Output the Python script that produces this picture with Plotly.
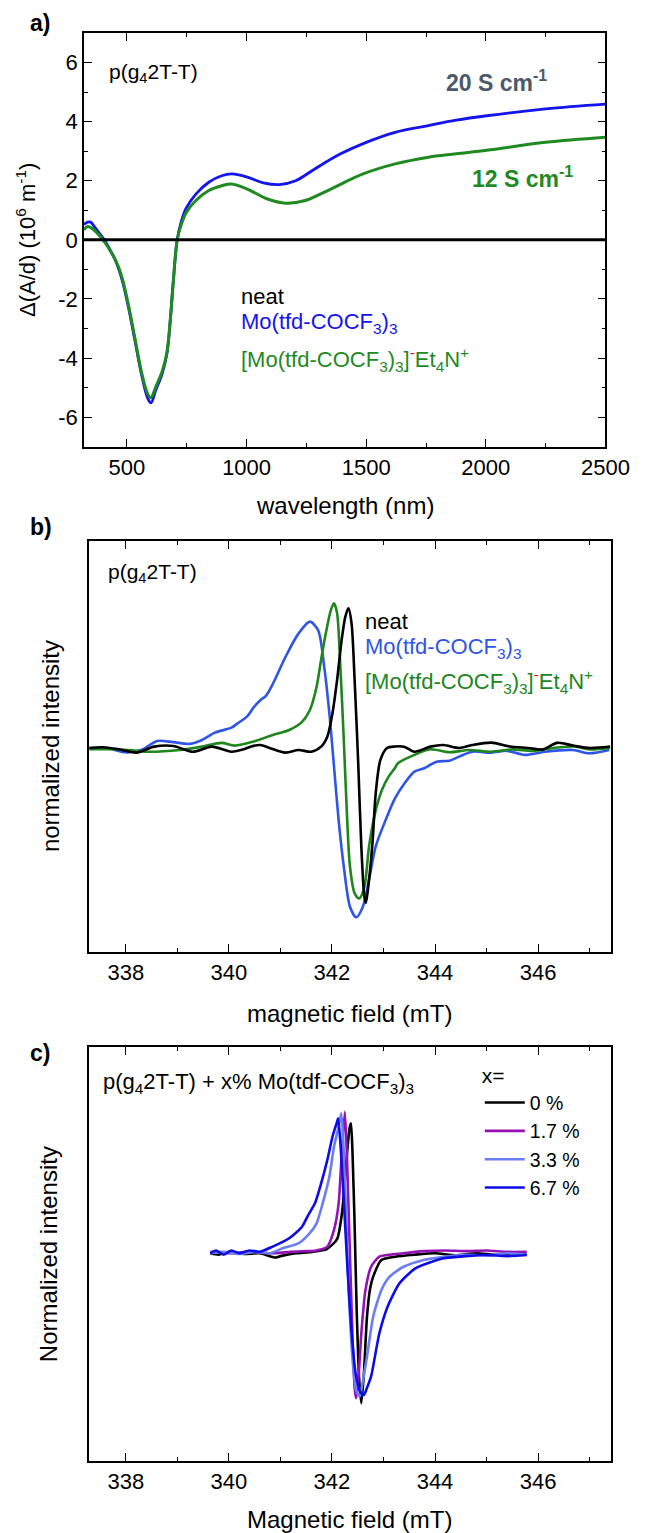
import plotly.graph_objects as go

# ---------------- data ----------------
# (a) differential absorption spectra, 10^6 m^-1
wl_blue = [320, 335, 348, 365, 385, 405, 430, 452, 480, 506, 533, 560, 587, 600, 620, 647, 667,
           681, 694, 710, 728, 748, 788, 842, 896, 940, 1003, 1070, 1137, 1205, 1285, 1393, 1500,
           1621, 1755, 1876, 2004, 2250, 2500]
dad_blue = [0.52, 0.60, 0.60, 0.43, 0.22, 0.0, -0.35, -0.70, -1.37, -2.28, -3.40, -4.53, -5.37,
            -5.52, -5.09, -4.53, -3.85, -2.73, -1.37, 0.0, 0.65, 1.08, 1.55, 1.95, 2.17, 2.23, 2.12,
            1.93, 1.87, 2.00, 2.40, 2.91, 3.30, 3.64, 3.86, 4.05, 4.20, 4.43, 4.59]

wl_green = [320, 335, 348, 372, 412, 459, 480, 506, 533, 560, 587, 600, 620, 647, 667, 681, 694,
            710, 728, 748, 788, 842, 896, 936, 1003, 1084, 1164, 1245, 1352, 1487, 1621, 1755,
            1876, 2004, 2250, 2500]
dad_green = [0.34, 0.45, 0.42, 0.26, -0.14, -0.81, -1.30, -2.20, -3.32, -4.45, -5.22, -5.34,
             -4.98, -4.45, -3.80, -2.70, -1.37, 0.0, 0.54, 0.93, 1.33, 1.67, 1.83, 1.89, 1.72,
             1.39, 1.24, 1.33, 1.72, 2.23, 2.57, 2.79, 2.91, 3.03, 3.30, 3.47]

wl_neat = [320, 2500]
dad_neat = [0.0, 0.0]

# (b) EPR spectra, normalized intensity
b_field_neat = [337.29, 337.55, 337.86, 338.21, 338.55, 338.92, 339.30, 339.67, 340.05, 340.29,
                340.42, 340.61, 340.79, 341.10, 341.35, 341.60, 341.79, 341.91, 342.01, 342.10,
                342.19, 342.26, 342.32, 342.38, 342.44, 342.51, 342.57, 342.63, 342.66, 342.72,
                342.79, 342.85, 342.94, 343.07, 343.22, 343.40, 343.60, 343.91, 344.16, 344.47,
                344.72, 345.09, 345.45, 345.80, 346.10, 346.37, 346.70, 347.00, 347.40]
b_int_neat = [0.0, 0.005, -0.009, -0.032, 0.009, 0.014, -0.026, 0.009, -0.026, -0.009, 0.009,
              0.02, 0.0, -0.032, -0.014, -0.026, 0.009, 0.078, 0.24, 0.47, 0.75, 0.907, 0.965,
              0.862, 0.47, -0.106, -0.68, -1.03, -1.07, -0.91, -0.64, -0.31, -0.083, 0.0, 0.01,
              0.009, -0.026, 0.009, 0.02, 0.0, 0.02, 0.037, 0.01, 0.0, -0.01, 0.035, 0.015, 0.0,
              0.01]

b_field_mo = [337.29, 337.62, 337.99, 338.30, 338.61, 338.92, 339.24, 339.48, 339.73, 340.05,
              340.17, 340.36, 340.48, 340.61, 340.72, 340.85, 341.10, 341.35, 341.57, 341.73,
              341.85, 341.95, 342.04, 342.13, 342.23, 342.35, 342.47, 342.60, 342.72, 342.85,
              343.04, 343.22, 343.41, 343.60, 343.79, 344.03, 344.28, 344.47, 344.72, 345.09,
              345.40, 345.74, 346.13, 346.68, 346.99, 347.38]
b_int_mo = [0.0, 0.0, -0.03, -0.014, 0.048, 0.04, 0.028, 0.055, 0.106, 0.14, 0.17, 0.22, 0.28,
            0.33, 0.36, 0.44, 0.63, 0.79, 0.873, 0.815, 0.56, 0.24, -0.129, -0.50, -0.82, -1.097,
            -1.17, -1.097, -0.91, -0.68, -0.50, -0.35, -0.244, -0.164, -0.14, -0.095, -0.088,
            -0.06, -0.026, -0.032, -0.02, -0.048, -0.026, -0.014, -0.037, -0.014]

b_field_salt = [337.29, 337.86, 338.42, 339.05, 339.48, 339.86, 340.11, 340.48, 340.85, 341.17,
                341.42, 341.57, 341.70, 341.79, 341.88, 341.98, 342.04, 342.10, 342.16, 342.23,
                342.29, 342.35, 342.44, 342.53, 342.63, 342.72, 342.85, 342.97, 343.10, 343.22,
                343.28, 343.60, 343.91, 344.28, 344.66, 345.09, 345.50, 345.90, 346.30, 346.70,
                347.00, 347.40]
b_int_salt = [-0.009, -0.009, -0.026, -0.014, 0.009, 0.035, 0.016, 0.044, 0.09, 0.124, 0.18,
              0.26, 0.42, 0.61, 0.79, 0.954, 1.0, 0.93, 0.585, 0.055, -0.45, -0.82, -1.004,
              -1.04, -0.96, -0.68, -0.43, -0.29, -0.198, -0.14, -0.106, -0.048, -0.009, -0.03,
              -0.014, -0.026, -0.01, -0.02, 0.0, 0.01, -0.01, 0.0]

# (c) EPR spectra vs. dopant fraction
c_labels = ["0 %", "1.7 %", "3.3 %", "6.7 %"]
c_field_0 = [339.64, 339.80, 340.00, 340.30, 340.60, 340.90, 341.00, 341.30, 341.60, 341.90,
             342.10, 342.20, 342.28, 342.34, 342.37, 342.40, 342.44, 342.48, 342.53, 342.57,
             342.62, 342.68, 342.74, 342.80, 342.96, 343.23, 343.60, 344.00, 344.40, 344.80,
             345.20, 345.50, 345.78]
c_int_0 = [0.0, -0.01, 0.01, -0.005, 0.0, -0.03, -0.02, 0.0, 0.01, 0.03, 0.1, 0.3, 0.65, 0.88,
           0.918, 0.7, 0.2, -0.4, -0.9, -1.059, -0.85, -0.448, -0.25, -0.165, -0.047, -0.024,
           -0.01, 0.0, -0.015, 0.0, -0.01, 0.0, -0.01]

c_field_17 = [339.64, 340.00, 340.40, 340.80, 341.20, 341.50, 341.67, 341.91, 342.04, 342.13,
              342.19, 342.25, 342.29, 342.34, 342.40, 342.44, 342.47, 342.52, 342.57, 342.65,
              342.76, 342.92, 343.39, 343.80, 344.20, 344.60, 345.00, 345.40, 345.78]
c_int_17 = [0.01, 0.0, 0.01, 0.0, 0.01, 0.015, 0.018, 0.047, 0.165, 0.353, 0.706, 1.0, 0.7, 0.1,
            -0.6, -0.95, -1.024, -0.85, -0.565, -0.26, -0.095, -0.024, 0.0, 0.015, 0.02, 0.015,
            0.02, 0.01, 0.01]

c_field_33 = [339.64, 339.90, 340.20, 340.50, 340.80, 341.04, 341.35, 341.54, 341.70, 341.82,
              341.95, 342.04, 342.13, 342.18, 342.22, 342.27, 342.33, 342.40, 342.47, 342.54,
              342.60, 342.68, 342.80, 342.96, 343.12, 343.39, 343.78, 344.17, 344.60, 345.00,
              345.40, 345.78]
c_int_33 = [0.0, 0.01, -0.005, 0.01, 0.0, 0.035, 0.07, 0.13, 0.21, 0.353, 0.541, 0.753, 0.894,
            0.989, 0.8, 0.3, -0.3, -0.75, -0.97, -1.013, -0.9, -0.73, -0.448, -0.259, -0.165,
            -0.095, -0.047, -0.024, -0.01, -0.015, 0.0, -0.01]

c_field_67 = [339.64, 339.75, 339.90, 340.05, 340.20, 340.40, 340.60, 340.85, 341.17, 341.42,
              341.54, 341.67, 341.79, 341.91, 342.01, 342.10, 342.12, 342.16, 342.22, 342.30,
              342.38, 342.46, 342.55, 342.62, 342.68, 342.76, 342.92, 343.08, 343.31, 343.62,
              343.94, 344.17, 344.60, 344.96, 345.40, 345.78]
c_int_67 = [0.0, 0.02, -0.01, 0.02, 0.0, 0.02, 0.01, 0.047, 0.106, 0.188, 0.27, 0.353, 0.494,
            0.659, 0.823, 0.929, 0.953, 0.8, 0.45, -0.1, -0.55, -0.85, -0.98, -1.0, -0.95, -0.87,
            -0.565, -0.377, -0.212, -0.106, -0.059, -0.035, -0.02, -0.012, -0.02, -0.012]

# tick labels
a_xticks = [500, 1000, 1500, 2000, 2500]
a_yticks = [-6, -4, -2, 0, 2, 4, 6]
bc_xticks = [338, 340, 342, 344, 346]

# ---------------- styling ----------------
W, H = 657, 1533
FONT = "Liberation Sans"
BLUE_A, GREEN_A = "#1414ee", "#1f8a1f"
BLUE_B, GREEN_B = "#2f55e6", "#1d861d"
C_COLORS = ["#000000", "#9412b4", "#6a7df2", "#0c0ce6"]


def xp(px):
    return px / W


def yp(py):
    return 1 - py / H


fig = go.Figure()

# panel a
spl_a = dict(shape="spline", smoothing=1.0)
fig.add_trace(go.Scatter(x=wl_blue, y=dad_blue, mode="lines", xaxis="x", yaxis="y",
                         line=dict(color=BLUE_A, width=2.8, **spl_a), showlegend=False))
fig.add_trace(go.Scatter(x=wl_green, y=dad_green, mode="lines", xaxis="x", yaxis="y",
                         line=dict(color=GREEN_A, width=3, **spl_a), showlegend=False))
fig.add_trace(go.Scatter(x=wl_neat, y=dad_neat, mode="lines", xaxis="x", yaxis="y",
                         line=dict(color="black", width=3), showlegend=False))

# panel b
spl_b = dict(shape="spline", smoothing=0.8)
fig.add_trace(go.Scatter(x=b_field_mo, y=b_int_mo, mode="lines", xaxis="x2", yaxis="y2",
                         line=dict(color=BLUE_B, width=2.6, **spl_b), showlegend=False))
fig.add_trace(go.Scatter(x=b_field_salt, y=b_int_salt, mode="lines", xaxis="x2", yaxis="y2",
                         line=dict(color=GREEN_B, width=2.6, **spl_b), showlegend=False))
fig.add_trace(go.Scatter(x=b_field_neat, y=b_int_neat, mode="lines", xaxis="x2", yaxis="y2",
                         line=dict(color="black", width=2.6, **spl_b), showlegend=False))

# panel c
spl_c = dict(shape="spline", smoothing=0.6)
for xs, ys, name, col in zip([c_field_0, c_field_17, c_field_33, c_field_67],
                             [c_int_0, c_int_17, c_int_33, c_int_67], c_labels, C_COLORS):
    fig.add_trace(go.Scatter(x=xs, y=ys, mode="lines", xaxis="x3", yaxis="y3", name=name,
                             line=dict(color=col, width=2.6, **spl_c), showlegend=True))

tickfont = dict(family=FONT, size=22, color="black")
minor_style = dict(ticks="inside", ticklen=4, tickwidth=1.2, tickcolor="black")
axis_common = dict(showline=True, linecolor="black", linewidth=1.6, mirror="allticks",
                   ticks="inside", ticklen=8, tickwidth=1.4, tickcolor="black",
                   showgrid=False, zeroline=False, tickfont=tickfont)

fig.update_layout(
    width=W, height=H, margin=dict(l=0, r=0, t=0, b=0),
    paper_bgcolor="white", plot_bgcolor="white",
    font=dict(family=FONT, size=22, color="black"),
    xaxis=dict(domain=[xp(87.1), xp(628.4)], anchor="y", range=[320, 2500],
               tickvals=a_xticks, ticktext=[str(v) for v in a_xticks],
               minor=dict(dtick=250, tick0=0, **minor_style), **axis_common),
    yaxis=dict(domain=[yp(446.7), yp(33)], anchor="x", range=[-7, 7],
               tickvals=a_yticks, ticktext=[str(v) for v in a_yticks],
               minor=dict(dtick=1, tick0=0, **minor_style), **axis_common),
    xaxis2=dict(domain=[xp(92.6), xp(633.9)], anchor="y2", range=[337.29, 347.41],
                tickvals=bc_xticks, ticktext=[str(v) for v in bc_xticks],
                minor=dict(dtick=1, tick0=0, **minor_style), **axis_common),
    yaxis2=dict(domain=[yp(952), yp(541)], anchor="x2", range=[-1.41, 1.43],
                showline=True, linecolor="black", linewidth=1.6, mirror=True, ticks="",
                showticklabels=False, showgrid=False, zeroline=False),
    xaxis3=dict(domain=[xp(92.6), xp(633.9)], anchor="y3", range=[337.29, 347.41],
                tickvals=bc_xticks, ticktext=[str(v) for v in bc_xticks],
                minor=dict(dtick=1, tick0=0, **minor_style), **axis_common),
    yaxis3=dict(domain=[yp(1460.7), yp(1047.3)], anchor="x3", range=[-1.465, 1.455],
                showline=True, linecolor="black", linewidth=1.6, mirror=True, ticks="",
                showticklabels=False, showgrid=False, zeroline=False),
    legend=dict(x=xp(498), y=yp(1056), xanchor="left", yanchor="top",
                bgcolor="rgba(0,0,0,0)", borderwidth=0, itemwidth=40,
                font=dict(family=FONT, size=19.5, color="black"),
                title=dict(text="x=", font=dict(family=FONT, size=21, color="black")),
                tracegroupgap=0),
)

ann = []


def text(x, y, s, xref="paper", yref="paper", size=22, color="black", xanchor="left",
         yanchor="middle", angle=0):
    ann.append(dict(x=x, y=y, xref=xref, yref=yref, text=s, showarrow=False, xanchor=xanchor,
                    yanchor=yanchor, textangle=angle,
                    font=dict(family=FONT, size=size, color=color)))


# panel letters
text(xp(29), yp(23), "<b>a)</b>", size=23)
text(xp(29), yp(527), "<b>b)</b>", size=23)
text(xp(29), yp(1053), "<b>c)</b>", size=23)

# axis titles
text(xp(357.8), yp(505), "wavelength (nm)", size=24, xanchor="center")
text(xp(27), yp(240), "\u0394(A/d) (10<sup>6</sup> m<sup>-1</sup>)", size=22,
     xanchor="center", angle=-90)
text(xp(363), yp(1013), "magnetic field (mT)", size=24, xanchor="center")
text(xp(52), yp(746), "normalized intensity", size=24, xanchor="center", angle=-90)
text(xp(363), yp(1519), "Magnetic field (mT)", size=24, xanchor="center")
text(xp(50), yp(1254), "Normalized intensity", size=24, xanchor="center", angle=-90)

salt = ("[Mo(tfd-COCF<sub>3</sub>)<sub>3</sub>]<sup><span style='color:#e01010'>-</span></sup>"
        "Et<sub>4</sub>N<sup>+</sup>")
mo = "Mo(tfd-COCF<sub>3</sub>)<sub>3</sub>"

# panel a labels
text(416, 5.66, "p(g<sub>4</sub>2T-T)", xref="x", yref="y", size=21)
text(1826, 5.38, "<b>20 S cm<sup>-1</sup></b>", xref="x", yref="y", size=23, color="#4b5a6b")
text(1935, 2.12, "<b>12 S cm<sup>-1</sup></b>", xref="x", yref="y", size=23, color=GREEN_A)
text(968, -1.92, "neat", xref="x", yref="y")
text(968, -2.82, mo, xref="x", yref="y", color=BLUE_A)
text(968, -4.05, salt, xref="x", yref="y", color=GREEN_A)

# panel b labels
text(337.61, 1.207, "p(g<sub>4</sub>2T-T)", xref="x2", yref="y2", size=21)
text(342.61, 0.873, "neat", xref="x2", yref="y2")
text(342.61, 0.689, mo, xref="x2", yref="y2", color=BLUE_B)
text(342.61, 0.458, salt, xref="x2", yref="y2", color=GREEN_B)

# panel c label
text(337.52, 1.20, "p(g<sub>4</sub>2T-T) + x% Mo(tdf-COCF<sub>3</sub>)<sub>3</sub>",
     xref="x3", yref="y3")

fig.update_layout(annotations=ann)
fig.write_html("out.html")
